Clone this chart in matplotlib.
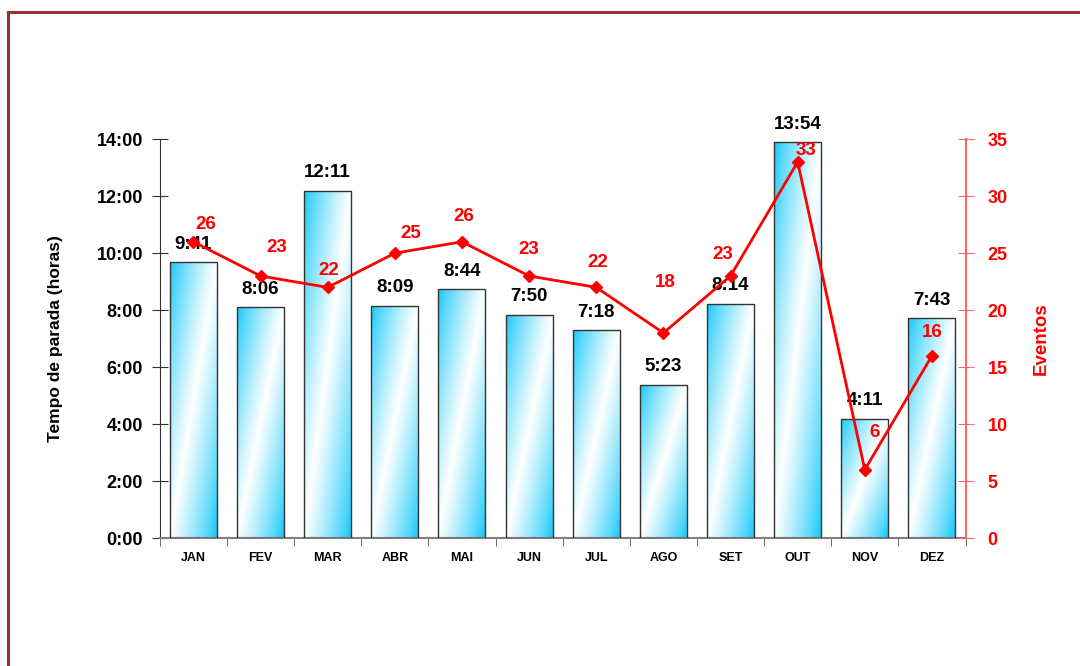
import matplotlib.pyplot as plt
import matplotlib.ticker as mtick
import numpy as np

plt.rcParams['font.family'] = ['Liberation Sans', 'DejaVu Sans']

# Data
meses = ['JAN', 'FEV', 'MAR', 'ABR', 'MAI', 'JUN', 'JUL', 'AGO', 'SET', 'OUT', 'NOV', 'DEZ']
tempo_parada = ['9:41', '8:06', '12:11', '8:09', '8:44', '7:50', '7:18', '5:23', '8:14', '13:54', '4:11', '7:43']
eventos = [26, 23, 22, 25, 26, 23, 22, 18, 23, 33, 6, 16]

horas = [int(t.split(':')[0]) + int(t.split(':')[1]) / 60 for t in tempo_parada]
x = np.arange(len(meses))

# label nudges (pixels) for the event numbers, as placed in the original
ev_dx = [12, 16, 1, 16, 2, 0, 1, 2, -8, 8, 10, 0]
ev_dy = [17, 28, 17, 20, 25, 26, 25, 50, 21, 11, 37, 23]

fig = plt.figure(figsize=(10.8, 6.66), dpi=100)
ax = fig.add_axes([0.148, 0.192, 0.746, 0.599])

# Gradient for the bars: cyan -> white -> cyan, diagonal
cyan = np.array([0.05, 0.78, 0.98])
white = np.array([1.0, 1.0, 1.0])
n = 200
u, v = np.meshgrid(np.linspace(0, 1, n), np.linspace(0, 1, n))
t = (u + (1 - v)) / 2
w = 1 - np.abs(t - 0.5) * 2
w = np.clip(w, 0, 1) ** 0.8
grad = cyan[None, None, :] * (1 - w[..., None]) + white[None, None, :] * w[..., None]

bar_w = 0.70
bars = ax.bar(x, horas, width=bar_w, color='none', edgecolor='#333333', linewidth=1.0, zorder=3)
for b in bars:
    x0, y0 = b.get_x(), b.get_y()
    bw, bh = b.get_width(), b.get_height()
    im = ax.imshow(grad, extent=[x0, x0 + bw, y0, y0 + bh], origin='lower',
                   aspect='auto', zorder=2)
    im.set_clip_path(b)

for xi, h, lbl in zip(x, horas, tempo_parada):
    ax.annotate(lbl, (xi, h), xytext=(0, 18), textcoords='offset pixels',
                ha='center', va='center', fontsize=13.5, fontweight='bold', color='black', zorder=6)

ax.set_xlim(-0.5, len(meses) - 0.5)
ax.set_ylim(0, 14)
ax.yaxis.set_major_locator(mtick.MultipleLocator(2))
ax.yaxis.set_major_formatter(mtick.FuncFormatter(lambda val, pos: f'{int(val)}:00'))
ax.set_xticks(x)
ax.set_xticklabels(meses, fontsize=9, fontweight='bold')
ax.set_xticks(np.arange(-0.5, len(meses), 1), minor=True)
ax.tick_params(axis='x', which='major', length=0, pad=10)
ax.tick_params(axis='x', which='minor', length=6, direction='out', color='#555555')
ax.tick_params(axis='y', direction='inout', length=12, labelsize=13, color='#333333', pad=6)
for lab in ax.get_yticklabels():
    lab.set_fontweight('bold')
ax.set_ylabel('Tempo de parada (horas)', fontsize=12.5, fontweight='bold')
ax.yaxis.set_label_coords(-0.12, 0.5)

ax.spines['top'].set_visible(False)
ax.spines['right'].set_visible(False)
ax.spines['left'].set_color('#333333')
ax.spines['bottom'].set_color('#808080')
ax.spines['bottom'].set_linewidth(1.5)

# Secondary axis: events
ax2 = ax.twinx()
ax2.plot(x, eventos, color='#ff0000', linewidth=2, marker='D', markersize=6, zorder=5)
for xi, ev, dx, dy in zip(x, eventos, ev_dx, ev_dy):
    ax2.annotate(str(ev), (xi, ev), xytext=(dx, dy), textcoords='offset pixels',
                 ha='center', va='center', fontsize=13.5, fontweight='bold', color='#ff0000', zorder=7)
ax2.set_ylim(0, 35)
ax2.yaxis.set_major_locator(mtick.MultipleLocator(5))
ax2.tick_params(axis='y', direction='inout', length=12, labelsize=13,
                color='#ff6666', labelcolor='#ff0000', pad=10)
for lab in ax2.get_yticklabels():
    lab.set_fontweight('bold')
ax2.set_ylabel('Eventos', fontsize=13.5, fontweight='bold', color='#ff0000')
ax2.yaxis.set_label_coords(1.083, 0.5)
ax2.spines['right'].set_color('#ff6666')
ax2.spines['right'].set_linewidth(1.5)
for s in ['top', 'left', 'bottom']:
    ax2.spines[s].set_visible(False)

# Frame around the chart (left and top edges visible)
fig.add_artist(plt.Line2D([0.0075, 0.0075], [0, 0.982], color='#993333', linewidth=2.2))
fig.add_artist(plt.Line2D([0.0075, 1.0], [0.982, 0.982], color='#993333', linewidth=2.2))

fig.savefig('out.png', dpi=100)
